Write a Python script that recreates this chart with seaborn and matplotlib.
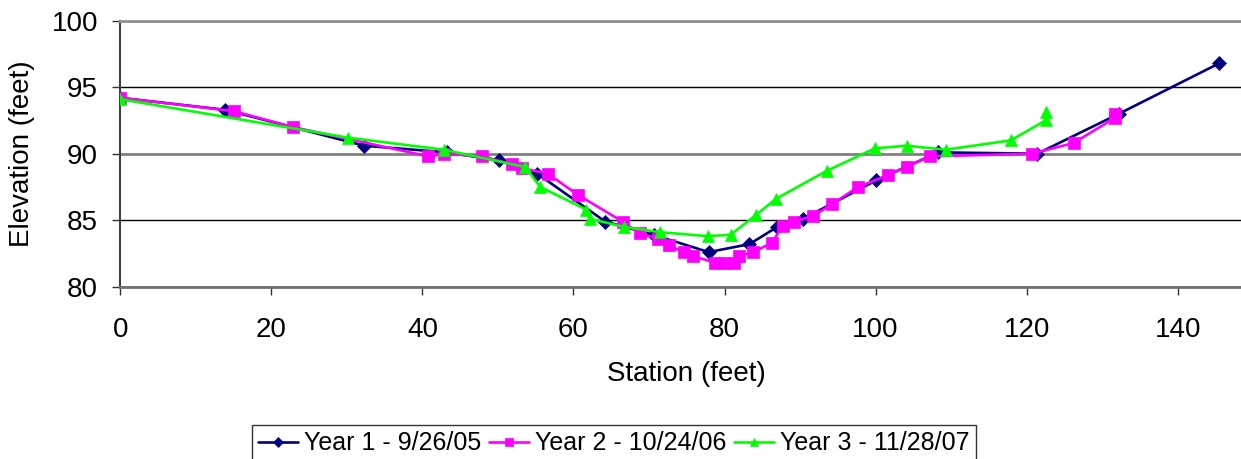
import matplotlib
matplotlib.use("Agg")
import matplotlib.pyplot as plt
import seaborn as sns
import pandas as pd

# ---- data ----
year1_label = "Year 1 - 9/26/05"
year1_x = [0, 13.9, 32.3, 43.2, 50.1, 55.2, 64.2, 70.6, 77.9, 83.3, 87.0, 90.4,
           100.1, 108.3, 121.4, 132.2, 145.5]
year1_y = [94.2, 93.3, 90.6, 90.1, 89.5, 88.5, 84.9, 83.9, 82.6, 83.2, 84.5, 85.1,
           88.0, 90.1, 90.0, 93.0, 96.8]

year2_label = "Year 2 - 10/24/06"
year2_x = [0, 15.0, 22.9, 40.8, 42.9, 47.9, 51.9, 53.2, 56.6, 60.6, 66.5, 68.8,
           71.2, 72.6, 74.6, 75.8, 78.8, 79.9, 81.3, 81.9, 83.8, 86.3, 87.7, 89.2,
           91.7, 94.2, 97.7, 101.7, 104.1, 107.2, 120.7, 126.2, 131.7, 131.7]
year2_y = [94.2, 93.2, 92.0, 89.8, 90.0, 89.8, 89.2, 88.9, 88.5, 86.9, 84.9, 84.0,
           83.6, 83.1, 82.6, 82.3, 81.8, 81.8, 81.8, 82.3, 82.6, 83.3, 84.6, 84.9,
           85.3, 86.2, 87.5, 88.4, 89.0, 89.8, 90.0, 90.8, 92.7, 93.0]

year3_label = "Year 3 - 11/28/07"
year3_x = [0, 30.2, 42.8, 53.6, 55.6, 61.7, 62.2, 66.7, 71.4, 77.8, 80.8, 84.2,
           86.8, 93.5, 99.9, 104.1, 109.3, 117.9, 122.5, 122.6]
year3_y = [94.1, 91.2, 90.3, 89.0, 87.5, 85.8, 85.1, 84.5, 84.1, 83.8, 83.9, 85.4,
           86.6, 88.7, 90.4, 90.6, 90.3, 91.0, 92.5, 93.1]

x_ticks = [0, 20, 40, 60, 80, 100, 120, 140]
y_ticks = [80, 85, 90, 95, 100]

series = [
    (year1_label, year1_x, year1_y, "#000080", "D", 7.5),
    (year2_label, year2_x, year2_y, "#FF00FF", "s", 8.0),
    (year3_label, year3_x, year3_y, "#00FF00", "^", 8.5),
]

sns.set_style("white")
plt.rcParams["font.family"] = ["Liberation Sans", "DejaVu Sans"]
plt.rcParams["text.color"] = "black"
plt.rcParams["axes.labelcolor"] = "black"
plt.rcParams["xtick.color"] = "black"
plt.rcParams["ytick.color"] = "black"

fig = plt.figure(figsize=(12.41, 4.59), dpi=100)
ax = fig.add_axes([0.0969, 0.3754, 0.9130, 0.5795])

for label, xs, ys, color, marker, ms in series:
    df = pd.DataFrame({"Station": xs, "Elevation": ys})
    sns.lineplot(data=df, x="Station", y="Elevation", ax=ax, sort=False,
                 estimator=None, color=color, marker=marker, markersize=ms,
                 markeredgecolor=color, markeredgewidth=0.5, linewidth=1.9,
                 label=label, zorder=3)

ax.set_xlim(0, 150)
ax.set_ylim(80, 100)
ax.set_xticks(x_ticks)
ax.set_yticks(y_ticks)
ax.tick_params(axis="both", labelsize=20, direction="out", length=6, width=1,
               color="#333333", bottom=True, left=True, pad=10)
ax.tick_params(axis="x", pad=16)

ax.yaxis.grid(True, color="black", linewidth=1.0)
ax.xaxis.grid(False)
gl = ax.get_ygridlines()
gl[2].set_color("#808080")
gl[2].set_linewidth(2.0)

ax.spines["left"].set_color("#404040")
ax.spines["left"].set_linewidth(1.5)
ax.spines["bottom"].set_color("#707070")
ax.spines["bottom"].set_linewidth(2.0)
ax.spines["top"].set_color("#909090")
ax.spines["top"].set_linewidth(2.0)
ax.spines["right"].set_visible(False)

ax.set_xlabel("Station (feet)", fontsize=20, labelpad=13)
ax.set_ylabel("Elevation (feet)", fontsize=20, labelpad=12)

leg = ax.legend(loc="upper center", bbox_to_anchor=(0.4948, 0.074),
                bbox_transform=fig.transFigure, ncol=3, fontsize=18,
                frameon=True, fancybox=False, edgecolor="black",
                handlelength=1.6, handletextpad=0.25, columnspacing=0.3,
                borderpad=0.25, markerscale=0.65, borderaxespad=0)
leg.get_frame().set_linewidth(1.0)

fig.savefig("out.png", dpi=100)
